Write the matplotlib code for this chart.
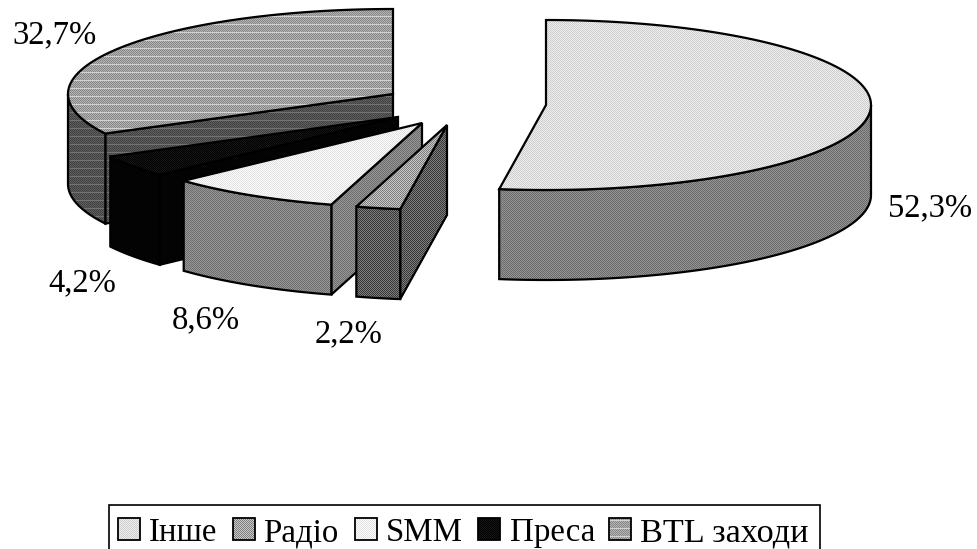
import numpy as np
import matplotlib
matplotlib.use("Agg")
import matplotlib.pyplot as plt
from matplotlib.patches import Polygon, Rectangle

plt.rcParams["font.family"] = ["Liberation Serif", "DejaVu Serif"]

# clockwise from 12 o'clock
categories = ["Інше", "Радіо", "SMM", "Преса", "BTL заходи"]
shares = [52.3, 2.2, 8.6, 4.2, 32.7]
share_labels = ["52,3%", "2,2%", "8,6%", "4,2%", "32,7%"]

# pie layout, in pixels
rx, ry, depth = 325, 85, 90
apex = [(546, 105), (447, 125), (422, 123), (398, 117), (393, 94)]
label_pos = [(930, 216), (349, 342), (206, 328), (82, 291), (54, 43)]

# (dark, light, line grey, line period) of the pixel patterns
top_tex = [(205, 238, None, 0), (125, 200, None, 0), (225, 252, None, 0), (0, 22, None, 0), (135, 180, 210, 8)]
side_tex = [(105, 150, None, 0), (55, 125, None, 0), (110, 150, None, 0), (0, 6, None, 0), (65, 95, 115, 8)]

legend_patch_x = [118, 233, 355, 478, 609]
legend_text_x = [149, 263, 386, 510, 640]
legend_text_size = [23.7, 23.7, 23.7, 23.7, 24.7]

W, H = 977, 549
yy, xx = np.indices((H, W))


def texture(tex):
    dark, light, line, period = tex
    img = np.where((xx + yy) % 2 == 0, dark, light).astype(float)
    if line is not None:
        img[yy % period == 0] = line
    return img


def edge(a, t):
    # t in degrees clockwise from the top of the pie
    t = np.radians(t)
    return a[0] + rx * np.sin(t), a[1] - ry * np.cos(t)


def arc(a, t0, t1, n=120):
    x, y = edge(a, np.linspace(t0, t1, n))
    return np.column_stack([x, y])


def add_face(ax, patch, tex, lw=1.6, z=1):
    ax.add_patch(patch)
    patch.set(facecolor="none", edgecolor="black", lw=lw, joinstyle="miter", zorder=z + 0.5)
    im = ax.imshow(texture(tex), cmap="gray", vmin=0, vmax=255, extent=(0, W, H, 0),
                   interpolation="nearest", aspect="auto", zorder=z)
    im.set_clip_path(patch)


fig = plt.figure(figsize=(W / 100, H / 100), dpi=100)
ax = fig.add_axes([0, 0, 1, 1])
ax.axis("off")

bounds = np.concatenate([[0], np.cumsum(shares)]) * 3.6

# back slices first, the big right one does not touch the others
for k in [4, 3, 2, 1, 0]:
    a = apex[k]
    t0, t1 = bounds[k], bounds[k + 1]
    z = 10 + (4 - k) * 3
    down = np.array([0, depth])

    # outer wall, only the part that faces the viewer
    w0, w1 = max(t0, 90), min(t1, 270)
    if w0 < w1:
        top_arc = arc(a, w0, w1)
        add_face(ax, Polygon(np.vstack([top_arc, (top_arc + down)[::-1]])), side_tex[k], z=z + 1)

    # cut face that shows on the left part of the pie
    if k > 0:
        p = np.array(edge(a, t0))
        q = np.array(a, dtype=float)
        add_face(ax, Polygon([p, q, q + down, p + down]), side_tex[k], z=z)

    add_face(ax, Polygon(np.vstack([[a], arc(a, t0, t1)])), top_tex[k], z=z + 2)

for (x, y), s in zip(label_pos, share_labels):
    ax.text(x, y, s, fontsize=23.5, ha="center", va="baseline", color="black", zorder=40)

# legend box is cut by the bottom of the picture
ax.plot([108.5, 108.5, 819.5, 819.5], [552, 504.5, 504.5, 552], color="black", lw=1.2, zorder=30,
        solid_joinstyle="miter")
for k, name in enumerate(categories):
    add_face(ax, Rectangle((legend_patch_x[k], 518), 22, 22), top_tex[k], lw=1.3, z=31)
    ax.text(legend_text_x[k], 541, name, fontsize=legend_text_size[k], ha="left", va="baseline", color="black", zorder=33)

ax.set_xlim(0, W)
ax.set_ylim(H, 0)
fig.savefig("out.png", dpi=100, facecolor="white")
